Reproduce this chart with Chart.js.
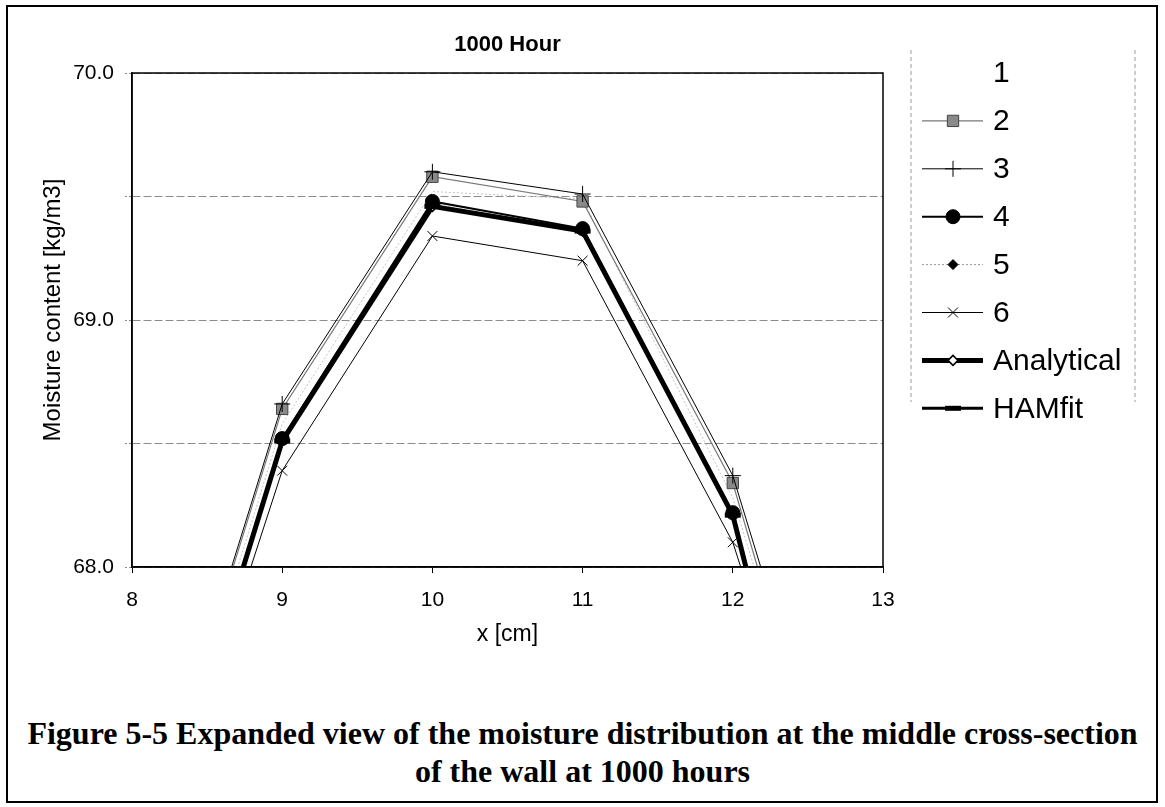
<!DOCTYPE html>
<html>
<head>
<meta charset="utf-8">
<script src="https://cdn.jsdelivr.net/npm/chart.js@4.4.0/dist/chart.umd.min.js"></script>
<style>
  body { margin: 0; background: #fff; width: 1165px; height: 807px; overflow: hidden; position: relative; }
  #frame { position: absolute; left: 6px; top: 5px; width: 1152px; height: 798px; border: 2px solid #000; box-sizing: border-box; }
  #wrap { position: absolute; left: 0; top: 0; width: 1165px; height: 690px; }
  .cap { position: absolute; left: 0; width: 1165px; text-align: center; line-height: 36px; font-family: "Liberation Serif", "Times New Roman", serif; font-weight: bold; font-size: 32px; color: #000; }
</style>
</head>
<body>
<div id="frame"></div>
<div id="wrap"><canvas id="chart" width="1165" height="690"></canvas></div>
<div class="cap" style="top:715px">Figure 5-5 Expanded view of the moisture distribution at the middle cross-section</div>
<div class="cap" style="top:753px">of the wall at 1000 hours</div>
<script>
// x positions [cm] and moisture content [kg/m3] per series
const xs = [8, 9, 10, 11, 12, 13];
const s1 = [66.62, 68.58, 69.52, 69.49, 68.28, 66.30];
const s2 = [66.68, 68.64, 69.58, 69.48, 68.34, 66.27];
const s3 = [66.70, 68.66, 69.60, 69.51, 68.37, 66.38];
const s4 = [66.55, 68.52, 69.48, 69.37, 68.22, 65.80];
const s5 = [66.55, 68.52, 69.47, 69.36, 68.22, 65.80];
const s6 = [66.52, 68.39, 69.34, 69.24, 68.10, 66.20];
const analytical = [66.54, 68.51, 69.46, 69.36, 68.21, 65.80];
const hamfit = [66.54, 68.51, 69.46, 69.36, 68.21, 65.80];
const yTicks = [68, 69, 70];

const pts = arr => arr.map((v, i) => ({ x: xs[i], y: v }));
const FONT = "'Liberation Sans', Arial, sans-serif";

// title, axis titles, plot frame and legend
const decor = {
  id: "decor",
  afterDraw(chart) {
    const ctx = chart.ctx;
    const a = chart.chartArea;
    ctx.save();
    ctx.strokeStyle = "#000";
    ctx.lineWidth = 1.5;
    ctx.strokeRect(a.left, a.top, a.right - a.left, a.bottom - a.top);

    ctx.fillStyle = "#000";
    ctx.textAlign = "center";
    ctx.textBaseline = "middle";
    ctx.font = "bold 22px " + FONT;
    ctx.fillText("1000 Hour", (a.left + a.right) / 2, 45);
    ctx.font = "23px " + FONT;
    ctx.fillText("x [cm]", (a.left + a.right) / 2, 635);
    ctx.save();
    ctx.translate(53, 310);
    ctx.rotate(-Math.PI / 2);
    ctx.font = "24px " + FONT;
    ctx.fillText("Moisture content [kg/m3]", 0, 0);
    ctx.restore();

    // legend frame
    ctx.strokeStyle = "#999";
    ctx.lineWidth = 1;
    ctx.setLineDash([4, 3]);
    ctx.beginPath();
    ctx.moveTo(911, 50); ctx.lineTo(911, 402);
    ctx.moveTo(1135, 50); ctx.lineTo(1135, 402);
    ctx.stroke();
    ctx.setLineDash([]);

    chart.data.datasets.forEach((ds, i) => {
      const y = 73 + i * 47.9;
      if (ds.borderWidth > 0 && ds.legendLine !== false) {
        ctx.save();
        ctx.strokeStyle = ds.borderColor;
        ctx.lineWidth = ds.borderWidth;
        ctx.setLineDash(ds.borderDash || []);
        ctx.beginPath();
        ctx.moveTo(922, y); ctx.lineTo(983, y);
        ctx.stroke();
        ctx.restore();
      }
      if (ds.pointRadius > 0) {
        ctx.save();
        ctx.fillStyle = ds.pointBackgroundColor;
        ctx.strokeStyle = ds.pointBorderColor;
        ctx.lineWidth = ds.pointBorderWidth;
        Chart.helpers.drawPoint(ctx, {
          pointStyle: ds.pointStyle, radius: ds.pointRadius,
          borderWidth: ds.pointBorderWidth, rotation: 0
        }, 953, y);
        ctx.restore();
      }
      ctx.fillStyle = "#000";
      ctx.textAlign = "left";
      ctx.font = "30px " + FONT;
      ctx.fillText(ds.label, 993, y + 1);
    });
    ctx.restore();
  }
};

new Chart(document.getElementById("chart"), {
  type: "line",
  data: {
    datasets: [
      { label: "1", data: pts(s1), borderColor: "#c4c4c4", borderWidth: 1, borderDash: [2, 2],
        pointRadius: 0, legendLine: false, order: 7 },
      { label: "2", data: pts(s2), borderColor: "#777", borderWidth: 1.2, borderDash: [],
        pointStyle: "rect", pointRadius: 8, pointBackgroundColor: "#8a8a8a",
        pointBorderColor: "#444", pointBorderWidth: 1, order: 3 },
      { label: "3", data: pts(s3), borderColor: "#000", borderWidth: 1,
        pointStyle: "cross", pointRadius: 8, pointBackgroundColor: "#000",
        pointBorderColor: "#000", pointBorderWidth: 1, order: 2 },
      { label: "4", data: pts(s4), borderColor: "#000", borderWidth: 2,
        pointStyle: "circle", pointRadius: 7, pointBackgroundColor: "#000",
        pointBorderColor: "#000", pointBorderWidth: 1, order: 0 },
      { label: "5", data: pts(s5), borderColor: "#999", borderWidth: 1, borderDash: [2, 2],
        pointStyle: "rectRot", pointRadius: 5, pointBackgroundColor: "#000",
        pointBorderColor: "#000", pointBorderWidth: 1, order: 6 },
      { label: "6", data: pts(s6), borderColor: "#000", borderWidth: 1,
        pointStyle: "crossRot", pointRadius: 7, pointBackgroundColor: "#000",
        pointBorderColor: "#000", pointBorderWidth: 1, order: 4 },
      { label: "Analytical", data: pts(analytical), borderColor: "#000", borderWidth: 5,
        pointStyle: "rectRot", pointRadius: 5, pointBackgroundColor: "#fff",
        pointBorderColor: "#000", pointBorderWidth: 1.5, order: 5 },
      { label: "HAMfit", data: pts(hamfit), borderColor: "#000", borderWidth: 3,
        pointStyle: "line", pointRadius: 8, pointBackgroundColor: "#000",
        pointBorderColor: "#000", pointBorderWidth: 5, order: 1 }
    ]
  },
  options: {
    responsive: false,
    animation: false,
    devicePixelRatio: 1,
    layout: { padding: { left: 0, top: 73, right: 282, bottom: 0 } },
    plugins: { legend: { display: false }, tooltip: { enabled: false }, title: { display: false } },
    elements: { line: { tension: 0 } },
    scales: {
      x: {
        type: "linear", min: 8, max: 13,
        afterFit: s => { s.height = 123; },
        ticks: { stepSize: 1, padding: 15, color: "#000", font: { family: FONT, size: 21 } },
        grid: { drawOnChartArea: false, tickLength: 6, color: "#000" },
        border: { display: true, color: "#000", width: 1.5 }
      },
      y: {
        min: 68, max: 70,
        afterFit: s => { s.width = 132; },
        ticks: {
          stepSize: 0.5, padding: 11, color: "#000", font: { family: FONT, size: 21 },
          callback: v => yTicks.includes(v) ? v.toFixed(1) : ""
        },
        grid: { color: "#8c8c8c", lineWidth: 1, tickLength: 7, tickBorderDash: [2, 2] },
        border: { display: true, color: "#000", width: 1.5, dash: [8, 3] }
      }
    }
  },
  plugins: [decor]
});
</script>
</body>
</html>
